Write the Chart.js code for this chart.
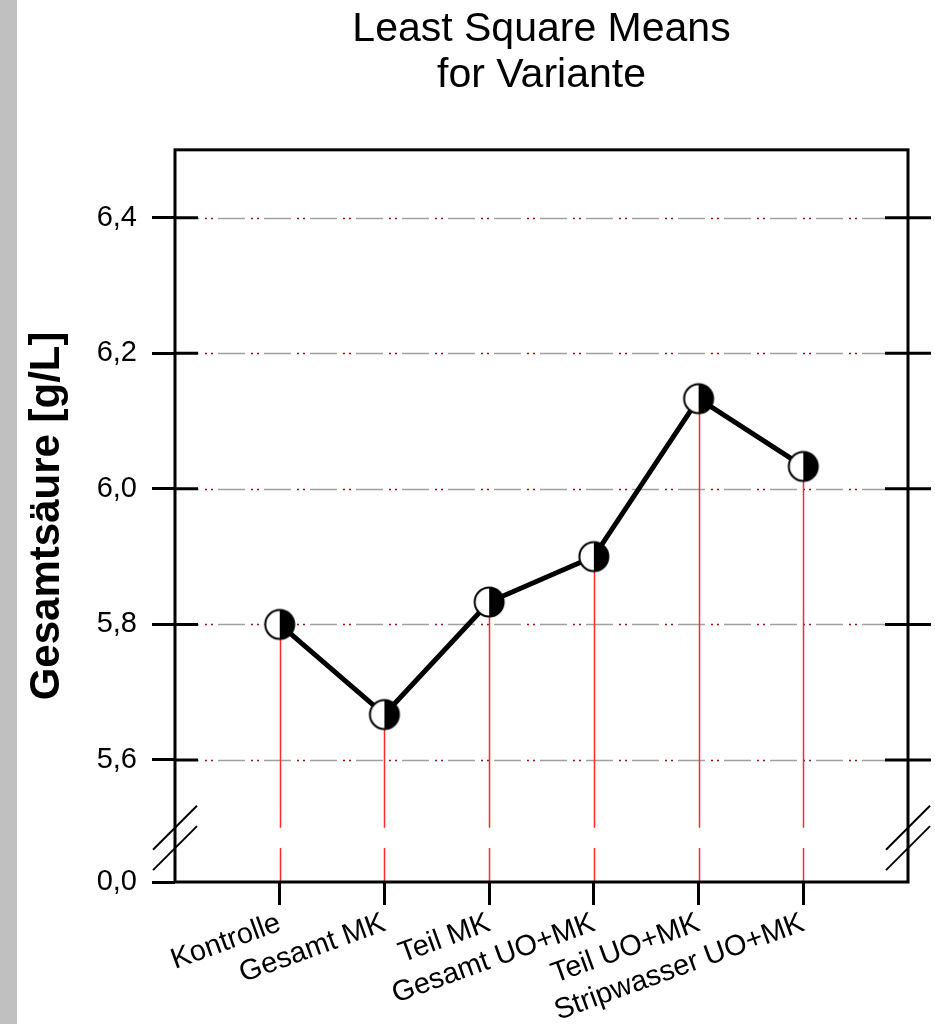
<!DOCTYPE html>
<html>
<head>
<meta charset="utf-8">
<script src="https://cdn.jsdelivr.net/npm/chart.js@4.4.1/dist/chart.umd.min.js"></script>
<style>
  html, body { margin: 0; padding: 0; background: #fff; }
  #wrap { position: relative; width: 935px; height: 1024px; }
</style>
</head>
<body>
<div id="wrap"><canvas id="c" width="935" height="1024"></canvas></div>
<script>
// ---- data ----
const categories = ['Kontrolle', 'Gesamt MK', 'Teil MK', 'Gesamt UO+MK', 'Teil UO+MK', 'Stripwasser UO+MK'];
const lsMeans = [5.8, 5.667, 5.833, 5.9, 6.133, 6.033];
const yTickValues = [0.0, 5.6, 5.8, 6.0, 6.2, 6.4];
const titleLines = ['Least Square Means', 'for Variante'];
const yAxisTitle = 'Gesamtsäure [g/L]';

// ---- broken value axis: everything below the break collapses onto the floor ----
const AXIS_TOP = 6.5;
const AXIS_FLOOR = 5.42;          // where 0,0 is drawn
const BREAK_HI = 5.50, BREAK_LO = 5.47;
const toAxis = v => (v < BREAK_LO ? AXIS_FLOOR : v);

const FONT = "'Liberation Sans', Arial, Helvetica, sans-serif";
const TICK_OUT = 23, TICK_IN = 23;

// half white / half black circle marker
const marker = (() => {
  const s = 34, r = 14.5, c = document.createElement('canvas');
  c.width = c.height = s;
  const g = c.getContext('2d'), m = s / 2;
  g.beginPath(); g.arc(m, m, r, 0, Math.PI * 2); g.fillStyle = '#fff'; g.fill();
  g.beginPath(); g.moveTo(m, m - r); g.arc(m, m, r, -Math.PI / 2, Math.PI / 2); g.closePath();
  g.fillStyle = '#000'; g.fill();
  g.beginPath(); g.arc(m, m, r, 0, Math.PI * 2); g.lineWidth = 2; g.strokeStyle = '#000'; g.stroke();
  return c;
})();

// grey strip along the left page edge
const pageStrip = {
  id: 'pageStrip',
  beforeDraw(chart) {
    const ctx = chart.ctx;
    ctx.save(); ctx.fillStyle = '#c0c0c0'; ctx.fillRect(0, 0, 17, chart.height); ctx.restore();
  }
};

// dash-dot-dot reference lines and red drop lines from each mean
const backLines = {
  id: 'backLines',
  beforeDatasetsDraw(chart) {
    const { ctx, chartArea: a, scales: { x, y } } = chart;
    ctx.save();
    const x0 = a.left + TICK_IN, x1 = a.right - TICK_IN;
    yTickValues.filter(v => v >= BREAK_LO).forEach(v => {
      const py = Math.round(y.getPixelForValue(toAxis(v))) + 0.5;
      ctx.lineWidth = 1.5;
      ctx.strokeStyle = '#a0a0a0';
      ctx.setLineDash([27, 19]); ctx.lineDashOffset = 26;
      ctx.beginPath(); ctx.moveTo(x0, py); ctx.lineTo(x1, py); ctx.stroke();
      ctx.strokeStyle = '#9a1010';
      ctx.setLineDash([2, 4, 2, 38]); ctx.lineDashOffset = 39;
      ctx.beginPath(); ctx.moveTo(x0, py); ctx.lineTo(x1, py); ctx.stroke();
    });
    ctx.setLineDash([]);
    ctx.strokeStyle = '#ff2a2a';
    ctx.lineWidth = 1.5;
    const yHi = y.getPixelForValue(BREAK_HI), yLo = y.getPixelForValue(BREAK_LO), yFloor = y.getPixelForValue(AXIS_FLOOR);
    lsMeans.forEach((v, i) => {
      const px = Math.round(x.getPixelForValue(i)) + 0.5;
      ctx.beginPath();
      ctx.moveTo(px, y.getPixelForValue(v)); ctx.lineTo(px, yHi);
      ctx.moveTo(px, yLo); ctx.lineTo(px, yFloor);
      ctx.stroke();
    });
    ctx.restore();
  }
};

// frame, inner / right ticks and the axis-break marks
const frame = {
  id: 'frame',
  afterDatasetsDraw(chart) {
    const { ctx, chartArea: a, scales: { y } } = chart;
    ctx.save();
    ctx.strokeStyle = '#000';
    ctx.lineWidth = 3;
    ctx.lineCap = 'square';
    ctx.strokeRect(a.left, a.top, a.right - a.left, a.bottom - a.top);
    ctx.lineCap = 'butt';
    yTickValues.filter(v => v >= BREAK_LO).forEach(v => {
      const py = y.getPixelForValue(toAxis(v));
      ctx.beginPath();
      ctx.moveTo(a.left - 1, py); ctx.lineTo(a.left + TICK_IN, py);
      ctx.moveTo(a.right - TICK_IN, py); ctx.lineTo(a.right + TICK_OUT, py);
      ctx.stroke();
    });
    ctx.lineWidth = 2;
    [y.getPixelForValue(BREAK_HI), y.getPixelForValue(BREAK_LO)].forEach(py => {
      [a.left, a.right].forEach(px => {
        ctx.beginPath(); ctx.moveTo(px - 22, py + 22); ctx.lineTo(px + 22, py - 22); ctx.stroke();
      });
    });
    ctx.restore();
  }
};

new Chart(document.getElementById('c'), {
  type: 'line',
  data: {
    datasets: [{
      data: lsMeans.map((v, i) => ({ x: i, y: v })),
      borderColor: '#000',
      borderWidth: 5,
      tension: 0,
      pointStyle: marker,
      pointRadius: 14,
      pointHoverRadius: 14
    }]
  },
  options: {
    responsive: false,
    animation: false,
    devicePixelRatio: 1,
    layout: { padding: { left: 0, right: 27, top: 0, bottom: 0 } },
    plugins: {
      legend: { display: false },
      tooltip: { enabled: false },
      title: {
        display: true,
        fullSize: false,
        text: titleLines,
        color: '#000',
        font: { family: FONT, size: 41, weight: 'normal', lineHeight: 1.12 },
        padding: { top: 7, bottom: 51 }
      }
    },
    scales: {
      x: {
        type: 'linear',
        min: -1,
        max: categories.length,
        afterBuildTicks: s => {
          s.ticks = [];
          for (let i = -1; i <= categories.length; i++) s.ticks.push({ value: i });
        },
        afterFit: s => { s.height = 142; },
        border: { display: false },
        grid: {
          drawOnChartArea: false,
          tickLength: TICK_OUT,
          lineWidth: 3,
          color: c => (c.tick && categories[c.tick.value] !== undefined ? '#000' : 'rgba(0,0,0,0)')
        },
        ticks: {
          autoSkip: false,
          minRotation: 20,
          maxRotation: 20,
          padding: 1,
          color: '#000',
          font: { family: FONT, size: 29 },
          callback: v => categories[v] ?? ''
        }
      },
      y: {
        type: 'linear',
        min: AXIS_FLOOR,
        max: AXIS_TOP,
        afterBuildTicks: s => { s.ticks = yTickValues.map(v => ({ value: toAxis(v) })); },
        afterFit: s => { s.width = 175; },
        border: { display: false },
        grid: { drawOnChartArea: false, tickLength: TICK_OUT, lineWidth: 3, color: '#000' },
        ticks: {
          padding: 15,
          color: '#000',
          font: { family: FONT, size: 29 },
          callback: (v, i) => yTickValues[i].toFixed(1).replace('.', ',')
        },
        title: {
          display: true,
          text: yAxisTitle,
          color: '#000',
          font: { family: FONT, size: 42, weight: 'bold', lineHeight: 1.2 },
          padding: { top: 22, bottom: 0 }
        }
      }
    }
  },
  plugins: [pageStrip, backLines, frame]
});
</script>
</body>
</html>
